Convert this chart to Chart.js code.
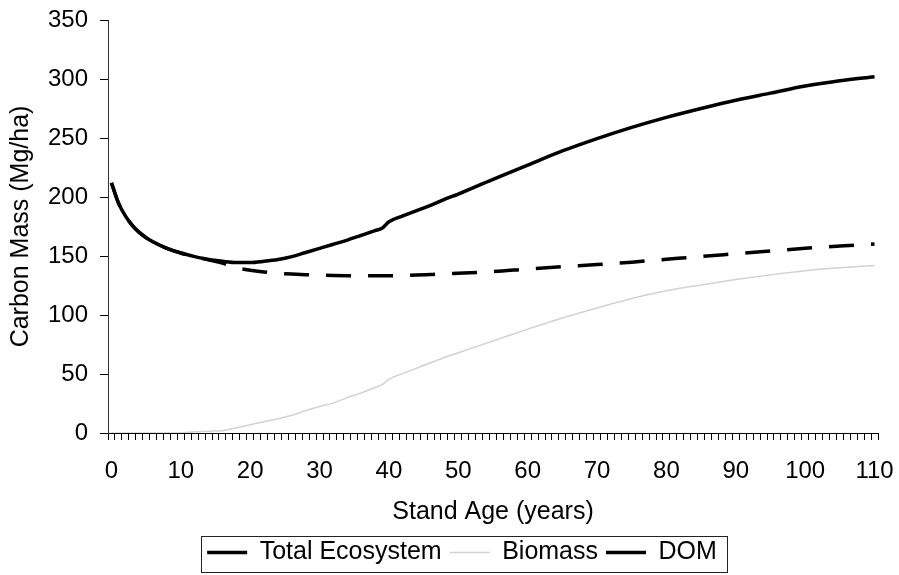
<!DOCTYPE html>
<html>
<head>
<meta charset="utf-8">
<script src="https://cdn.jsdelivr.net/npm/chart.js@4.4.1/dist/chart.umd.min.js"></script>
<style>
  html, body { margin: 0; padding: 0; background: #fff; }
  #wrap { width: 899px; height: 575px; position: relative; }
</style>
</head>
<body>
<div id="wrap"><canvas id="grafico"></canvas></div>
<script>
/* ===== DADOS ===== */
// idades (anos) dos pontos
const IDADES = [0, 1, 2, 3, 4, 5, 6, 8, 10, 12, 14, 16, 18, 20, 22, 24, 26, 28, 30, 32, 34, 36, 38, 39, 40,
  42, 44, 46, 48, 50, 55, 60, 65, 70, 75, 80, 85, 90, 95, 100, 105, 110];

const TOTAL = [212, 195, 184, 176, 170, 165.5, 162, 156.5, 152.5, 149.5, 147, 145.5, 144.5, 144.5, 145.5, 147,
  149.5, 153, 156.5, 160, 163.5, 167.5, 171.5, 173.5, 179, 184, 188.5, 193, 198, 202.5, 215, 227, 239,
  249.5, 259, 267.5, 275, 282, 288, 294, 298.5, 302];

const BIOMASSA = [0, 0, 0, 0, 0, 0, 0, 0, 0, 1, 1.5, 2, 4.5, 7, 9.5, 12, 15, 19, 22.5, 25.5, 30, 34, 38.5, 41,
  45.5, 50.5, 55, 59.5, 64, 68, 78, 88, 97.5, 106, 114, 120.5, 125.5, 130, 134, 137.5, 140, 142];

const DOM = [212, 195, 184, 176, 170, 165.5, 162, 156.5, 152.5, 149.5, 146.8, 144, 140, 138, 136.4, 135.4,
  134.7, 134.2, 133.8, 133.5, 133.3, 133.2, 133.2, 133.2, 133.2, 133.4, 133.8, 134.3, 134.8, 135.3, 136.8,
  139, 141, 142.7, 144.8, 147.2, 149.6, 151.9, 154.2, 156.6, 158.5, 160.2];

// categorias do eixo x: 0..110 anos, rotulo a cada 10
const CATEGORIAS = [];
for (let i = 0; i <= 110; i++) { CATEGORIAS.push(i); }
const Y_TICKS = [0, 50, 100, 150, 200, 250, 300, 350];

function pontos(valores) {
  return IDADES.map((idade, i) => ({ x: idade, y: valores[i] }));
}

/* ===== LEGENDA (caixa) ===== */
const legenda_caixa = {
  id: 'legenda_caixa',
  afterLayout(chart) {
    // centra a legenda como na figura original
    const lg = chart.legend;
    const desloc = 462 - (lg.left + lg.right) / 2;
    lg.left += desloc;
    lg.right += desloc;
  },
  afterDraw(chart) {
    const lg = chart.legend;
    const p = lg.options.labels.padding;
    const W = lg.lineWidths[0];
    const x0 = (lg.left + p + lg.right - W) / 2;
    const ctx = chart.ctx;
    ctx.save();
    ctx.strokeStyle = '#222';
    ctx.lineWidth = 1;
    ctx.strokeRect(Math.round(x0 - 6) + 0.5, Math.round(lg.top + 4) + 0.5, Math.round(W - p + 16), 36);
    ctx.restore();
  }
};

/* ===== GRAFICO ===== */
Chart.defaults.font.family = "'Liberation Sans', Arial, sans-serif";
Chart.defaults.color = '#000';

const ctx_grafico = document.getElementById('grafico');
const grafico = new Chart(ctx_grafico, {
  type: 'line',
  data: {
    labels: CATEGORIAS,
    datasets: [
      {
        label: 'Total Ecosystem',
        data: pontos(TOTAL),
        borderColor: '#000',
        borderWidth: 3.5,
        cubicInterpolationMode: 'monotone'
      },
      {
        label: 'Biomass',
        data: pontos(BIOMASSA),
        borderColor: '#d2d2d2',
        borderWidth: 1.5,
        cubicInterpolationMode: 'monotone'
      },
      {
        label: 'DOM',
        data: pontos(DOM),
        borderColor: '#000',
        borderWidth: 3.5,
        borderDash: [25, 17],
        cubicInterpolationMode: 'monotone'
      }
    ]
  },
  options: {
    responsive: true,
    maintainAspectRatio: false,
    animation: false,
    elements: { point: { radius: 0, hoverRadius: 0 } },
    layout: { padding: { top: 20, right: 21, bottom: 0, left: 0 } },
    plugins: {
      tooltip: { enabled: false },
      legend: {
        position: 'bottom',
        labels: {
          usePointStyle: true,
          pointStyle: 'line',
          pointStyleWidth: 40,
          padding: 8,
          font: { size: 25 }
        }
      }
    },
    scales: {
      x: {
        type: 'category',
        offset: true,
        z: 1,
        afterFit: (s) => { s.height = 99; s.paddingLeft = 0; s.paddingRight = 0; },
        grid: { offset: true, drawOnChartArea: false, tickLength: 7, color: '#000' },
        border: { color: '#000', width: 1 },
        ticks: {
          autoSkip: false,
          maxRotation: 0,
          minRotation: 0,
          padding: 17,
          font: { size: 24 },
          callback: function (val, index) {
            return index % 10 === 0 ? String(this.getLabelForValue(val)) : '';
          }
        },
        title: { display: true, text: 'Stand Age (years)', font: { size: 25 }, padding: { top: 0, bottom: 5 } }
      },
      y: {
        min: 0,
        max: 350,
        afterFit: (s) => { s.width = 108; s.paddingTop = 0; s.paddingBottom = 0; },
        afterBuildTicks: (s) => { s.ticks = Y_TICKS.map(v => ({ value: v })); },
        grid: { drawOnChartArea: false, tickLength: 8, color: '#000' },
        border: { color: '#333', width: 1 },
        ticks: { padding: 12, font: { size: 24 } },
        title: { display: true, text: 'Carbon Mass (Mg/ha)', font: { size: 25 }, padding: { top: 6, bottom: 0 } }
      }
    }
  },
  plugins: [legenda_caixa]
});
</script>
</body>
</html>
